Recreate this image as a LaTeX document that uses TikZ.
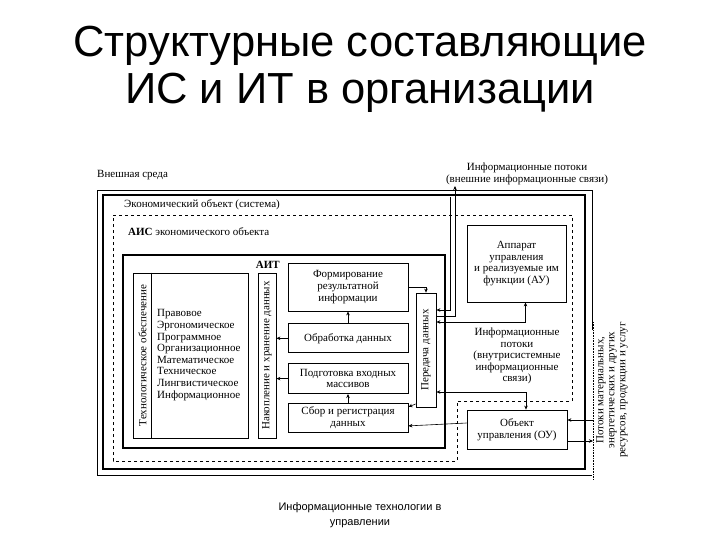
\documentclass[tikz,border=0pt]{standalone}
\usepackage{fontspec}
\setmainfont{Liberation Serif}
\newfontfamily\titlefont{Liberation Sans}
\usetikzlibrary{arrows.meta,positioning}
\newcommand{\dtext}{\fontsize{11}{11.6}\selectfont}

\begin{document}
\begin{tikzpicture}[x=1pt,y=-1pt,
  box/.style={rectangle,draw,line width=0.8pt,align=center,font=\dtext,inner sep=1pt},
  lab/.style={font=\dtext,align=center,inner sep=0pt},
  arr/.style={-{Stealth[length=4pt,width=3.5pt]},line width=0.6pt},
  arrs/.style={{Stealth[length=4pt,width=3.5pt]}-{Stealth[length=4pt,width=3.5pt]},line width=0.6pt},
  node distance=10pt]
\useasboundingbox (0,0) rectangle (720,540);

% title and footer
\node[font=\titlefont\fontsize{43.5}{47}\selectfont,align=center] (title) at (360,69)
  {Структурные составляющие\\ИС и ИТ в организации};
\node[font=\titlefont\fontsize{11}{15}\selectfont,align=center] (foot) at (360,515)
  {Информационные технологии в\\управлении};

% frames
\draw[line width=0.6pt] (592,330) -- (592,190) -- (97,190) -- (97,475) -- (592,475);
\draw[line width=0.6pt,densely dotted] (593,322) -- (593,479);
\draw[line width=2.4pt] (103,195) rectangle (585,469);
\draw[dashed,line width=0.7pt] (113,215) -- (572,215) -- (572,401) -- (457,401) -- (457,461) -- (113,461) -- cycle;
\draw[line width=1.6pt] (123,255) rectangle (445,448);

% labels
\node[lab,anchor=west] (sreda) at (97,175) {Внешная среда};
\node[lab] (extlab) at (527,174) {Информационные потоки\\(внешние информационные связи)};
\node[lab,anchor=west] (eolab) at (124,205) {Экономический объект (система)};
\node[lab,anchor=west] (aislab) at (128,232) {\textbf{АИС} экономического объекта};
\node[lab,anchor=east] (aitlab) at (280,265) {\textbf{АИТ}};

% technological support
\node[box,minimum width=115pt,minimum height=165pt] (tech) at (190.5,355.5) {};
\draw[line width=0.8pt] ([xshift=19pt]tech.north west) -- ([xshift=19pt]tech.south west);
\node[lab,rotate=90] (techlab) at (142.5,355.5) {Технологическое обеспечение};
\node[lab,anchor=west,align=left] (techlist) at (157,355)
  {Правовое\\Эргономическое\\Программное\\Организационное\\Математическое\\Техническое\\Лингвистическое\\Информационное};

\node[box,minimum width=18pt,minimum height=165pt] (nak) at (267,355.5) {};
\node[lab,rotate=90] (naklab) at (nak) {Накопление и хранение данных};

% processing chain
\node[box,minimum width=120pt,minimum height=48pt] (form) at (348,287) {Формирование\\результатной\\информации};
\node[box,minimum width=120pt,minimum height=29pt,below=12pt of form] (obr) {Обработка данных};
\node[box,minimum width=120pt,minimum height=30pt,below=10pt of obr] (podg) {Подготовка входных\\массивов};
\node[box,minimum width=120pt,minimum height=29pt,below=9pt of podg] (sbor) {Сбор и регистрация\\данных};

\node[box,minimum width=20pt,minimum height=114pt] (per) at (426,350) {};
\node[lab,rotate=90] (perlab) at (per) {Передача данных};

% control
\node[box,minimum width=99pt,minimum height=77pt] (au) at (516.5,263.5)
  {Аппарат\\управления\\и реализуемые им\\функции (АУ)};
\node[lab] (vnutr) at (517,356) {Информационные\\потоки\\(внутрисистемные\\информационные\\связи)};
\node[box,minimum width=100pt,minimum height=39pt] (ou) at (517,429.5) {Объект\\управления (ОУ)};

\node[lab,rotate=90,font=\fontsize{11}{11}\selectfont] (mflab) at (612,390)
  {Потоки материальных,\\энергетических и других\\ресурсов, продукции и услуг};

\coordinate (extA) at (450,197);
\coordinate (extB) at (455,186);
\coordinate (mfin) at (593,420);
\coordinate (mfout) at (593,441);

% connectors
\draw[arr] (form.east) -| (per.north);
\draw[arr] (extA) |- ([yshift=40pt]per.east);
\draw[arr] ([yshift=34pt]per.east) -| (extB);
\draw[arrs] ([yshift=28pt]per.east) -| ([xshift=9pt]au.south);
\draw[arrs] ([yshift=-42pt]per.east) -| ([xshift=9pt]ou.north);
\draw[arr] ([yshift=-54pt]per.west) -- ([yshift=11pt]sbor.east);
\draw[arr] ([yshift=6.5pt]ou.west) -- ([yshift=-8pt]sbor.east);
\draw[arr] (obr.north) -- (form.south);
\draw[arr] (sbor.north) -- (podg.south);
\draw[arr] (obr.west) -- (obr.west -| nak.east);
\draw[arr] (podg.west) -- (podg.west -| nak.east);
\draw[arr] (mfin) -- (mfin -| ou.east);
\draw[arr] (ou.east |- mfout) -- (mfout);
\end{tikzpicture}
\end{document}
